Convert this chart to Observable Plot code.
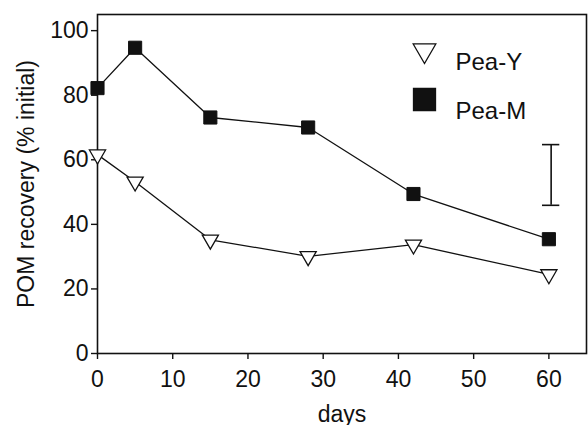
<!DOCTYPE html>
<html>
<head>
<meta charset="utf-8">
<script src="https://cdn.jsdelivr.net/npm/d3@7"></script>
<script src="https://cdn.jsdelivr.net/npm/@observablehq/plot@0.6"></script>
<style>
  html, body { margin: 0; padding: 0; background: #fff; }
  svg { font-family: "Liberation Sans", Arial, sans-serif; }
</style>
</head>
<body>
<div id="chart"></div>
<script>
// Data
const days = [0, 5, 15, 28, 42, 60];
const peaY = [61.6, 53.2, 35.2, 30.1, 33.7, 24.5];
const peaM = [82.2, 94.7, 73.1, 70.0, 49.4, 35.4];
const seriesNames = ["Pea-Y", "Pea-M"];
const errX = [60.3];
const errLo = [45.9];
const errHi = [64.7];
const xTicks = [0, 10, 20, 30, 40, 50, 60];
const yTicks = [0, 20, 40, 60, 80, 100];

const dataY = days.map((d, i) => ({day: d, v: peaY[i]}));
const dataM = days.map((d, i) => ({day: d, v: peaM[i]}));
const err = errX.map((x, i) => ({x, lo: errLo[i], hi: errHi[i]}));

// downward-pointing triangle symbol (centroid at origin)
const triDown = {
  draw(context, size) {
    const s = Math.sqrt(size / (Math.sqrt(3) / 4));
    const h = s * Math.sqrt(3) / 2;
    context.moveTo(-s / 2, -h / 3);
    context.lineTo(s / 2, -h / 3);
    context.lineTo(0, 2 * h / 3);
    context.closePath();
  }
};

const capHalf = 1.15; // half-width of error bar caps, in days

const chart = Plot.plot({
  width: 588,
  height: 425,
  marginLeft: 97,
  marginRight: 2,
  marginTop: 14,
  marginBottom: 72,
  style: {fontSize: "23px", fontFamily: "Liberation Sans, Arial, sans-serif", color: "#111"},
  x: {domain: [0, 65], ticks: xTicks},
  y: {domain: [0, 105], ticks: yTicks},
  marks: [
    Plot.frame({stroke: "#111", strokeWidth: 1.6}),
    Plot.axisX({ticks: xTicks, tickSize: 6, tickPadding: 11, fontSize: 23, label: "days", labelAnchor: "center", labelArrow: "none", labelOffset: 68, stroke: "#111", strokeWidth: 1.4}),
    Plot.axisY({ticks: yTicks, tickSize: 6, tickPadding: 3, fontSize: 23, label: "POM recovery (% initial)", labelAnchor: "center", labelArrow: "none", labelOffset: 80, stroke: "#111", strokeWidth: 1.4}),
    Plot.line(dataM, {x: "day", y: "v", stroke: "#111", strokeWidth: 1.3}),
    Plot.line(dataY, {x: "day", y: "v", stroke: "#111", strokeWidth: 1.3}),
    Plot.dot(dataM, {x: "day", y: "v", symbol: "square", r: 7.4, fill: "#111", stroke: "#111", strokeWidth: 1}),
    Plot.dot(dataY, {x: "day", y: "v", symbol: triDown, r: 6, fill: "#fff", stroke: "#111", strokeWidth: 1.3}),
    // error bar
    Plot.ruleX(err, {x: "x", y1: "lo", y2: "hi", stroke: "#111", strokeWidth: 1.6}),
    Plot.ruleY(err, {y: "hi", x1: d => d.x - capHalf, x2: d => d.x + capHalf, stroke: "#111", strokeWidth: 1.6}),
    Plot.ruleY(err, {y: "lo", x1: d => d.x - capHalf, x2: d => d.x + capHalf, stroke: "#111", strokeWidth: 1.6}),
    // legend
    Plot.dot([seriesNames[0]], {frameAnchor: "top-left", dx: 327, dy: 36, symbol: triDown, r: 8.4, fill: "#fff", stroke: "#111", strokeWidth: 1.3}),
    Plot.dot([seriesNames[1]], {frameAnchor: "top-left", dx: 327, dy: 85, symbol: "square", r: 12.3, fill: "#111", stroke: "#111"}),
    Plot.text([seriesNames[0]], {text: d => d, frameAnchor: "top-left", dx: 358, dy: 38, textAnchor: "start", fontSize: 24, fill: "#111"}),
    Plot.text([seriesNames[1]], {text: d => d, frameAnchor: "top-left", dx: 358, dy: 87, textAnchor: "start", fontSize: 24, fill: "#111"})
  ]
});
document.getElementById("chart").appendChild(chart);
</script>
</body>
</html>
